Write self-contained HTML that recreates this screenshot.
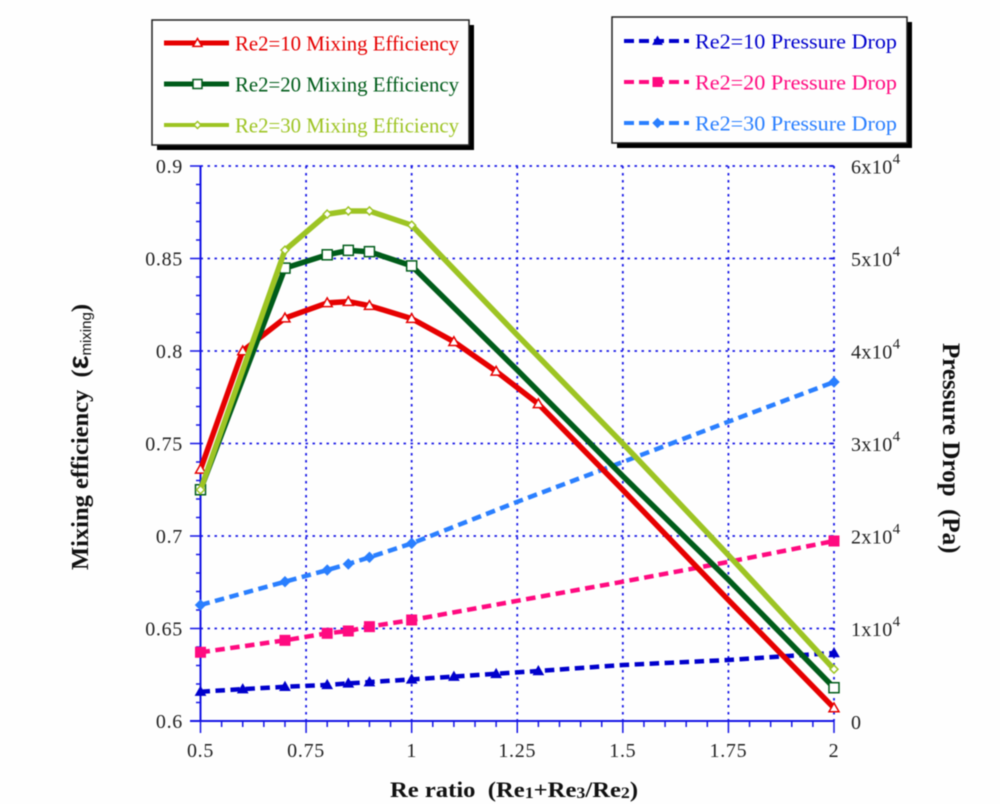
<!DOCTYPE html>
<html lang="en">
<head>
<meta charset="utf-8">
<title>Mixing efficiency and pressure drop chart</title>
<style>
html,body{margin:0;padding:0;background:#fefefe;overflow:hidden;}
svg{display:block;font-family:"Liberation Serif",serif;filter:blur(0.4px);}
</style>
</head>
<body>
<svg id="chart" xmlns="http://www.w3.org/2000/svg" width="1000" height="804" viewBox="0 0 1000 804">
  <rect x="0" y="0" width="1000" height="804" fill="#fefefe"/>
  <g id="grid"></g>
  <g id="axes"></g>
  <g id="series"></g>
  <g id="left-legend"></g>
  <g id="right-legend"></g>
  <text transform="translate(390,797) scale(1.12,1)" font-size="22" font-weight="bold" fill="#111">Re ratio&#160; (Re<tspan font-size="16" dy="1">1</tspan><tspan dy="-1">+Re</tspan><tspan font-size="16" dy="1">3</tspan><tspan dy="-1">/Re</tspan><tspan font-size="16" dy="1">2</tspan><tspan dy="-1">)</tspan></text>
  <text transform="translate(88,570) rotate(-90)" font-size="24.5" font-weight="bold" fill="#111">Mixing efficiency&#160; (<tspan font-family="'Liberation Sans',sans-serif" font-size="29">&#949;</tspan><tspan font-family="'Liberation Sans',sans-serif" font-size="15" font-weight="normal" dy="3">mixing</tspan><tspan dy="-3">)</tspan></text>
  <text transform="translate(943,343) rotate(90)" font-size="25" font-weight="bold" fill="#111">Pressure Drop&#160; (Pa)</text>
</svg>
<script>
var xTickLabels = ['0.5','0.75','1','1.25','1.5','1.75','2'];
var xTickValues = [0.5,0.75,1,1.25,1.5,1.75,2];
var leftTickLabels = ['0.6','0.65','0.7','0.75','0.8','0.85','0.9'];
var leftTickValues = [0.6,0.65,0.7,0.75,0.8,0.85,0.9];
var rightTickCoefficients = [1,2,3,4,5,6];

var redX = [0.5,0.6,0.7,0.8,0.85,0.9,1,1.1,1.2,1.3,1.5,1.75,2];
var redY = [0.736,0.8,0.8178,0.826,0.8267,0.8245,0.8175,0.805,0.789,0.7714,0.7249,0.6654,0.607];
var redMarked = [1,1,1,1,1,1,1,1,1,1,0,0,1];

var greenX = [0.5,0.7,0.8,0.85,0.9,1,1.25,1.5,1.75,2];
var greenY = [0.725,0.8448,0.852,0.8544,0.8537,0.846,0.7897,0.7324,0.6764,0.618];
var greenMarked = [1,1,1,1,1,1,0,0,0,1];

var limeX = [0.5,0.7,0.8,0.85,0.9,1,1.25,1.5,1.75,2];
var limeY = [0.725,0.8545,0.874,0.8757,0.8757,0.868,0.8086,0.75,0.6897,0.628];
var limeMarked = [1,1,1,1,1,1,0,0,0,1];

var pd10X = [0.5,0.6,0.7,0.8,0.85,0.9,1,1.1,1.2,1.3,1.5,1.75,2];
var pd10Y = [3170,3450,3700,3900,4070,4200,4500,4800,5100,5400,6050,6600,7350];
var pd10Marked = [1,1,1,1,1,1,1,1,1,1,0,0,1];

var pd20X = [0.5,0.7,0.8,0.85,0.9,1,1.25,1.5,1.75,2];
var pd20Y = [7430,8720,9480,9730,10200,10920,13000,15060,17200,19460];
var pd20Marked = [1,1,1,1,1,1,0,0,0,1];

var pd30X = [0.5,0.7,0.8,0.85,0.9,1,1.25,1.5,1.75,2];
var pd30Y = [12540,15060,16320,16970,17700,19200,23700,28000,32360,36650];
var pd30Marked = [1,1,1,1,1,1,0,0,0,1];

var leftLegendLabels = ['Re2=10 Mixing Efficiency','Re2=20 Mixing Efficiency','Re2=30 Mixing Efficiency'];
var rightLegendLabels = ['Re2=10 Pressure Drop','Re2=20 Pressure Drop','Re2=30 Pressure Drop'];

var NS = 'http://www.w3.org/2000/svg';
var X0 = 200.5, X1 = 834, YT = 166, YB = 721;
function xScale(v){ return X0 + (v - 0.5) / 1.5 * (X1 - X0); }
function yLeft(v){ return YB - (v - 0.6) / 0.3 * (YB - YT); }
function yRight(v){ return YB - v / 60000 * (YB - YT); }
function make(tag, parent, attrs){
  var el = document.createElementNS(NS, tag);
  for (var k in attrs) el.setAttribute(k, attrs[k]);
  parent.appendChild(el);
  return el;
}
var AXIS = '#1414e6';
var grid = document.getElementById('grid');
var axes = document.getElementById('axes');
var seriesG = document.getElementById('series');

function gridLine(x1,y1,x2,y2){
  var l = make('line', grid, {x1:x1,y1:y1,x2:x2,y2:y2,stroke:'#1a1ae6','stroke-width':1.8,'stroke-dasharray':'2.5 4.5'});
  
  
}
xTickValues.slice(1).forEach(function(v){ gridLine(xScale(v), YT, xScale(v), YB); });
leftTickValues.slice(1).forEach(function(v){ gridLine(X0, yLeft(v), X1, yLeft(v)); });

function axisLine(name,x1,y1,x2,y2,w){
  var l = make('line', axes, {x1:x1,y1:y1,x2:x2,y2:y2,stroke:AXIS,'stroke-width':w});
  
  
}
axisLine('left-y-axis', X0, YT, X0, YB, 2);
axisLine('x-axis', 190, YB, X1, YB, 2);
var i;
for (i = 0; i <= 30; i++) {
  var yv = 0.6 + i * 0.01;
  var isMajorY = i % 5 === 0;
  axisLine('left-y-tick', isMajorY ? 190 : 196, yLeft(yv), X0, yLeft(yv), 1.5);
  if (i % 5 === 0 && i > 0) axisLine('right-y-tick', X1 - 5, yLeft(yv), X1, yLeft(yv), 1.5);
}
for (i = 0; i <= 30; i++) {
  var xv = 0.5 + i * 0.05;
  var isMajorX = i % 5 === 0;
  axisLine('x-tick', xScale(xv), YB, xScale(xv), isMajorX ? 733 : 727, 1.5);
}
function label(name, parent, x, y, txt, anchor, size, fill, spacing){
  var t = make('text', parent, {x:x,y:y,'text-anchor':anchor,'font-size':size,fill:fill});
  if (spacing) t.setAttribute('letter-spacing', spacing);
  
  
  t.textContent = txt;
  return t;
}
xTickLabels.forEach(function(s, idx){
  label('x-tick-label', axes, xScale(xTickValues[idx]), 757, s, 'middle', 20, '#222', 0.7);
});
leftTickLabels.forEach(function(s, idx){
  label('left-y-tick-label', axes, 183, yLeft(leftTickValues[idx]) + 7, s, 'end', 20, '#222', 0.7);
});
label('right-y-tick-label', axes, 851, 729, '0', 'start', 20, '#222');
rightTickCoefficients.forEach(function(c){
  var yp = yRight(c * 10000) + 7.5;
  var t = label('right-y-tick-label', axes, 851, yp, c + 'x10', 'start', 20, '#222', 0.4);
  var sup = make('tspan', t, {'font-size':15, dy:-10});
  sup.textContent = '4';
});

function marker(parent, kind, cx, cy, color, filled, size){
  var fill = filled ? color : '#fff';
  var el, s = size;
  if (kind === 'triangle') {
    el = make('polygon', parent, {points:(cx)+','+(cy-s)+' '+(cx+s)+','+(cy+s*0.75)+' '+(cx-s)+','+(cy+s*0.75)});
  } else if (kind === 'square') {
    el = make('rect', parent, {x:cx-s,y:cy-s,width:2*s,height:2*s});
  } else {
    el = make('polygon', parent, {points:cx+','+(cy-s)+' '+(cx+s)+','+cy+' '+cx+','+(cy+s)+' '+(cx-s)+','+cy});
  }
  el.setAttribute('fill', fill);
  el.setAttribute('stroke', color);
  el.setAttribute('stroke-width', filled ? 1 : 1.5);
  
  
}
function drawSeries(name, xs, ys, marked, yFn, color, width, dash, kind, filled, size){
  var g = make('g', seriesG, {});
  
  
  var pts = xs.map(function(x, idx){ return xScale(x).toFixed(1) + ',' + yFn(ys[idx]).toFixed(1); }).join(' ');
  var pl = make('polyline', g, {points:pts, fill:'none', stroke:color, 'stroke-width':width, 'stroke-linejoin':'round'});
  if (dash) pl.setAttribute('stroke-dasharray', dash);
  
  
  xs.forEach(function(x, idx){
    if (marked[idx]) marker(g, kind, xScale(x), yFn(ys[idx]), color, filled, size);
  });
}
drawSeries('pressure-drop-re2-10', pd10X, pd10Y, pd10Marked, yRight, '#0000cc', 4.5, '9.5 5.5', 'triangle', true, 5);
drawSeries('pressure-drop-re2-20', pd20X, pd20Y, pd20Marked, yRight, '#ff0a80', 4.5, '9.5 5.5', 'square', true, 5);
drawSeries('pressure-drop-re2-30', pd30X, pd30Y, pd30Marked, yRight, '#2a7fff', 4.5, '9.5 5.5', 'diamond', true, 5);
drawSeries('mixing-efficiency-re2-10', redX, redY, redMarked, yLeft, '#e60000', 5.5, null, 'triangle', false, 5);
drawSeries('mixing-efficiency-re2-20', greenX, greenY, greenMarked, yLeft, '#005c1a', 5.5, null, 'square', false, 5);
drawSeries('mixing-efficiency-re2-30', limeX, limeY, limeMarked, yLeft, '#9dc423', 5.5, null, 'diamond', false, 4);

function legendBox(g, x, y, w, h){
  var sh = make('rect', g, {x:x+5,y:y+5,width:w,height:h,fill:'#000'});
  
  
  var b = make('rect', g, {x:x,y:y,width:w,height:h,fill:'#fefefe',stroke:'#222','stroke-width':1.5});
  
  
}
function legendEntry(g, txt, y, color, dash, kind, filled, size, textX, textW, lineW){
  var e = make('g', g, {});
  
  
  var l = make('line', e, {x1:164,y1:y,x2:229,y2:y,stroke:color,'stroke-width':lineW});
  if (dash) l.setAttribute('stroke-dasharray', dash);
  
  
  marker(e, kind, 197.5, y, color, filled, size);
  var t = label('legend-label', e, textX, y + 7.5, txt, 'start', 21.5, color);
  t.setAttribute('textLength', textW);
  t.setAttribute('lengthAdjust', 'spacingAndGlyphs');
}
var lg = document.getElementById('left-legend');
legendBox(lg, 152, 20, 317, 125);
var lColors = ['#e60000','#005c1a','#9dc423'];
var lKinds = ['triangle','square','diamond'];
var lYs = [43,84,125];
var lWidths = [5,5,4];
leftLegendLabels.forEach(function(s, idx){
  legendEntry(lg, s, lYs[idx], lColors[idx], null, lKinds[idx], false, idx === 2 ? 3.5 : 4.5, 235, 224, lWidths[idx]);
});
var rg = document.getElementById('right-legend');
legendBox(rg, 612, 17, 295, 126);
var rColors = ['#0000cc','#ff0a80','#2a7fff'];
var rKinds = ['triangle','square','diamond'];
var rYs = [41,82,123];
rightLegendLabels.forEach(function(s, idx){
  var e = make('g', rg, {transform:'translate(460,0)'});
  
  
  legendEntry(e, s, rYs[idx], rColors[idx], '10 5', rKinds[idx], true, 4.5, 235, 202, 4);
});
</script>
</body>
</html>
